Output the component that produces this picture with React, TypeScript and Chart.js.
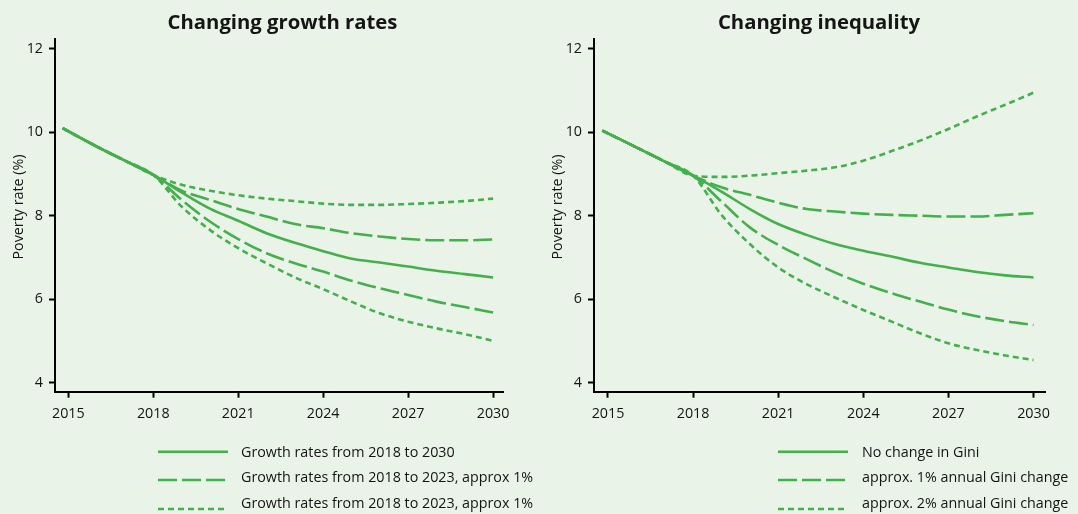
import React, { useEffect, useRef } from "react";
import { Chart, registerables } from "chart.js";

Chart.register(...registerables);

// ---------- data ----------
const years = [2014.8, 2016, 2017, 2018, 2019, 2020, 2021, 2022, 2023, 2024, 2025, 2026, 2027, 2028, 2029, 2030];
const xTicks = [2015, 2018, 2021, 2024, 2027, 2030];
const yTicks = [4, 6, 8, 10, 12];

// Left panel: Changing growth rates
const growthSolid = [10.1, 9.66, 9.32, 8.98, 8.56, 8.17, 7.88, 7.58, 7.35, 7.15, 6.97, 6.88, 6.78, 6.68, 6.6, 6.52];
const growthLongUpper = [10.1, 9.66, 9.32, 8.98, 8.6, 8.38, 8.16, 7.98, 7.8, 7.7, 7.58, 7.5, 7.44, 7.41, 7.41, 7.43];
const growthShortUpper = [10.1, 9.66, 9.32, 8.98, 8.74, 8.6, 8.49, 8.41, 8.35, 8.29, 8.26, 8.26, 8.28, 8.31, 8.35, 8.41];
const growthLongLower = [10.1, 9.66, 9.32, 8.98, 8.38, 7.86, 7.44, 7.1, 6.86, 6.66, 6.44, 6.26, 6.1, 5.94, 5.81, 5.68];
const growthShortLower = [10.1, 9.66, 9.32, 8.98, 8.22, 7.66, 7.22, 6.86, 6.52, 6.24, 5.94, 5.66, 5.46, 5.3, 5.16, 5.0];

// Right panel: Changing inequality
const giniSolid = [10.04, 9.64, 9.3, 8.96, 8.58, 8.16, 7.8, 7.54, 7.32, 7.16, 7.02, 6.87, 6.76, 6.65, 6.57, 6.52];
const giniLongUpper = [10.04, 9.64, 9.3, 8.96, 8.68, 8.5, 8.31, 8.16, 8.1, 8.05, 8.02, 8.0, 7.98, 7.98, 8.02, 8.06];
const giniShortUpper = [10.04, 9.64, 9.3, 8.96, 8.93, 8.96, 9.02, 9.08, 9.16, 9.32, 9.55, 9.8, 10.08, 10.38, 10.66, 10.95];
const giniLongLower = [10.04, 9.64, 9.3, 8.96, 8.34, 7.72, 7.3, 6.96, 6.64, 6.37, 6.14, 5.94, 5.75, 5.59, 5.47, 5.38];
const giniShortLower = [10.04, 9.64, 9.3, 8.96, 8.02, 7.32, 6.76, 6.36, 6.04, 5.74, 5.46, 5.18, 4.94, 4.78, 4.65, 4.54];

const leftTitle = "Changing growth rates";
const rightTitle = "Changing inequality";
const yAxisTitle = "Poverty rate (%)";
const leftLegend = [
  "Growth rates from 2018 to 2030",
  "Growth rates from 2018 to 2023, approx 1%",
  "Growth rates from 2018 to 2023, approx 1%",
];
const rightLegend = [
  "No change in Gini",
  "approx. 1% annual Gini change",
  "approx. 2% annual Gini change",
];

// ---------- styles ----------
const GREEN = "#43b14b";
const BG = "#e9f3e7";
const INK = "#151515";
const FONT = "'Open Sans', 'DejaVu Sans', sans-serif";
const SOLID: number[] = [];
const LONG = [19, 5];
const SHORT = [6, 4];

type Series = { values: number[]; dash: number[] };

const leftSeries: Series[] = [
  { values: growthShortUpper, dash: SHORT },
  { values: growthLongUpper, dash: LONG },
  { values: growthSolid, dash: SOLID },
  { values: growthLongLower, dash: LONG },
  { values: growthShortLower, dash: SHORT },
];
const rightSeries: Series[] = [
  { values: giniShortUpper, dash: SHORT },
  { values: giniLongUpper, dash: LONG },
  { values: giniSolid, dash: SOLID },
  { values: giniLongLower, dash: LONG },
  { values: giniShortLower, dash: SHORT },
];

const CANVAS_W = 539;
const CANVAS_H = 430;

function Panel(props: { left: number; series: Series[]; xMin: number; xMax: number; padRight: number }) {
  const ref = useRef<HTMLCanvasElement | null>(null);
  useEffect(() => {
    if (!ref.current) return;
    const tickFont = { family: FONT, size: 14.3 };
    const chart = new Chart(ref.current, {
      type: "line",
      data: {
        datasets: props.series.map((s) => ({
          data: years.map((x, i) => ({ x, y: s.values[i] })),
          borderColor: GREEN,
          borderWidth: 2.6,
          borderDash: s.dash,
          borderCapStyle: "butt",
          pointRadius: 0,
          fill: false,
          cubicInterpolationMode: "monotone",
        })),
      },
      options: {
        animation: false,
        responsive: false,
        maintainAspectRatio: false,
        events: [],
        layout: { padding: { left: 0, top: 39.3, right: props.padRight, bottom: 0 } },
        plugins: { legend: { display: false }, tooltip: { enabled: false }, title: { display: false } },
        scales: {
          x: {
            type: "linear",
            min: props.xMin,
            max: props.xMax,
            afterBuildTicks: (s: any) => {
              s.ticks = xTicks.map((v) => ({ value: v }));
            },
            afterFit: (s: any) => {
              s.height = CANVAS_H - 391.7;
            },
            border: { display: true, color: "#000", width: 2 },
            grid: { display: true, drawOnChartArea: false, drawTicks: true, tickLength: 6, tickWidth: 2, tickColor: "#000" },
            ticks: {
              font: tickFont,
              color: INK,
              padding: 8,
              maxRotation: 0,
              autoSkip: false,
              callback: (v: any) => String(v),
            },
          },
          y: {
            type: "linear",
            min: 3.78,
            max: 12.23,
            afterBuildTicks: (s: any) => {
              s.ticks = yTicks.map((v) => ({ value: v }));
            },
            afterFit: (s: any) => {
              s.width = 55;
            },
            border: { display: true, color: "#000", width: 2 },
            grid: { display: true, drawOnChartArea: false, drawTicks: true, tickLength: 6, tickWidth: 2, tickColor: "#000" },
            ticks: {
              font: tickFont,
              color: INK,
              padding: 6,
              autoSkip: false,
              callback: (v: any) => String(v),
            },
          },
        },
      } as any,
    });
    return () => chart.destroy();
  }, []);
  return (
    <canvas
      ref={ref}
      width={CANVAS_W}
      height={CANVAS_H}
      style={{ position: "absolute", left: props.left, top: 0, width: CANVAS_W, height: CANVAS_H }}
    />
  );
}

const legendLineY = [451.7, 480, 509];
const legendTextY = [456.5, 482, 508];
const dashes = ["none", "19 5", "6 4"];

function Overlay() {
  const textStyle = { fontFamily: FONT, fill: INK } as any;
  return (
    <svg width={1078} height={514} style={{ position: "absolute", left: 0, top: 0, pointerEvents: "none" }}>
      <text x={282.5} y={28.5} textAnchor="middle" style={{ ...textStyle, fontWeight: 700, fontSize: 20.3 }}>
        {leftTitle}
      </text>
      <text x={819} y={28.5} textAnchor="middle" style={{ ...textStyle, fontWeight: 700, fontSize: 20.3 }}>
        {rightTitle}
      </text>
      <text
        x={0}
        y={0}
        textAnchor="middle"
        transform="translate(23 207) rotate(-90)"
        style={{ ...textStyle, fontSize: 14.3 }}
      >
        {yAxisTitle}
      </text>
      <text
        x={0}
        y={0}
        textAnchor="middle"
        transform="translate(562 207) rotate(-90)"
        style={{ ...textStyle, fontSize: 14.3 }}
      >
        {yAxisTitle}
      </text>
      {legendLineY.map((y, i) => (
        <g key={"l" + i}>
          <line x1={158} x2={228} y1={y} y2={y} stroke={GREEN} strokeWidth={2.6} strokeDasharray={dashes[i]} />
          <text x={241} y={legendTextY[i]} style={{ ...textStyle, fontSize: 14.3 }}>
            {leftLegend[i]}
          </text>
        </g>
      ))}
      {legendLineY.map((y, i) => (
        <g key={"r" + i}>
          <line x1={778} x2={848} y1={y} y2={y} stroke={GREEN} strokeWidth={2.6} strokeDasharray={dashes[i]} />
          <text x={862} y={legendTextY[i]} style={{ ...textStyle, fontSize: 14.3 }}>
            {rightLegend[i]}
          </text>
        </g>
      ))}
    </svg>
  );
}

export default function App() {
  return (
    <div
      style={{
        position: "absolute",
        left: 0,
        top: 0,
        width: 1078,
        height: 514,
        background: BG,
        overflow: "hidden",
      }}
    >
      <Panel left={0} series={leftSeries} xMin={2014.53} xMax={2030.35} padRight={36} />
      <Panel left={539} series={rightSeries} xMin={2014.507} xMax={2030.405} padRight={33} />
      <Overlay />
    </div>
  );
}
